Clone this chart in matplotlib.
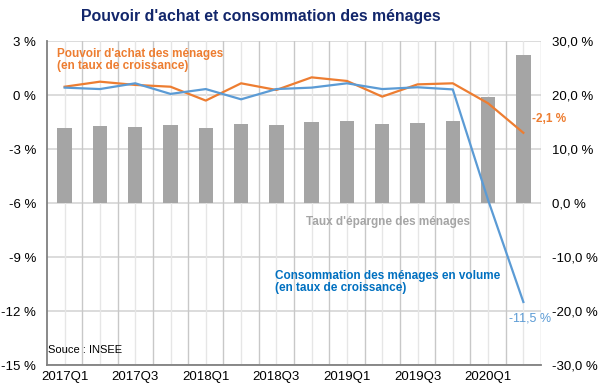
import matplotlib
matplotlib.use("Agg")
import matplotlib.pyplot as plt
import numpy as np

plt.rcParams['font.family'] = ['Liberation Sans', 'DejaVu Sans']

quarters = ["2017Q1", "2017Q2", "2017Q3", "2017Q4", "2018Q1", "2018Q2", "2018Q3",
            "2018Q4", "2019Q1", "2019Q2", "2019Q3", "2019Q4", "2020Q1", "2020Q2"]
epargne = [13.8, 14.2, 14.0, 14.4, 13.8, 14.6, 14.5, 15.0, 15.1, 14.7, 14.9, 15.2, 19.7, 27.4]
pouvoir_achat = [0.46, 0.74, 0.56, 0.46, -0.31, 0.65, 0.28, 0.98, 0.78, -0.09, 0.59, 0.65, -0.46, -2.1]
consommation = [0.41, 0.33, 0.65, 0.06, 0.33, -0.24, 0.33, 0.41, 0.65, 0.33, 0.43, 0.31, -5.83, -11.5]
left_ticks = [-15, -12, -9, -6, -3, 0, 3]
right_ticks = [-30, -20, -10, 0, 10, 20, 30]

C_ORANGE = "#ED7D31"
C_BLUE = "#5B9BD5"
C_BLUE_TXT = "#0070C0"
C_BAR = "#A5A5A5"
C_TITLE = "#12266B"

fig = plt.figure(figsize=(6, 3.9), dpi=100)
ax = fig.add_axes([47/600, 25/390, (541-47)/600, (365-41)/390])
ax2 = ax.twinx()

x = np.arange(len(quarters))

# grid
for v in right_ticks:
    ax.axhline(v, color="#D9D9D9", lw=1.3, zorder=0)
for i in x:
    ax.axvline(i, color="#E6E6E6", lw=1.0, zorder=0)
    ax.axvline(i + 0.5, color="#C8C8C8", lw=1.0, zorder=0)

ax.bar(x, epargne, width=0.41, color=C_BAR, zorder=2)
ax.set_ylim(-30, 30)
ax.set_xlim(-0.5, len(quarters) - 0.5)
ax.yaxis.tick_right()
ax.set_yticks(right_ticks)
ax.set_yticklabels([f"{v:.1f}".replace(".", ",") + " %" for v in right_ticks])

ax2.plot(x, pouvoir_achat, color=C_ORANGE, lw=1.6, zorder=3)
ax2.plot(x, consommation, color=C_BLUE, lw=1.6, zorder=3)
ax2.set_ylim(-15, 3)
ax2.yaxis.tick_left()
ax2.set_yticks(left_ticks)
ax2.set_yticklabels([f"{v} %" for v in left_ticks])

ax.set_xticks(x[::2])
ax.set_xticklabels(quarters[::2])

for a in (ax, ax2):
    a.tick_params(length=0, labelsize=9.5, colors="#000000")
    for s in a.spines.values():
        s.set_visible(False)
ax.tick_params(axis='y', pad=8)
ax2.tick_params(axis='y', pad=8)
ax.tick_params(axis='x', pad=4)

ax2.spines['left'].set_visible(True)
ax2.spines['left'].set_color("#808080")
ax2.spines['left'].set_linewidth(1.3)
ax2.spines['bottom'].set_visible(True)
ax2.spines['bottom'].set_color("#808080")
ax2.spines['bottom'].set_linewidth(1.3)

# texts
fig.text(261/600, 1 - 16/390, "Pouvoir d'achat et consommation des ménages",
         ha="center", va="center", fontsize=11.4, fontweight="bold", color=C_TITLE)
fig.text(57/600, 1 - 60/390, "Pouvoir d'achat des ménages\n(en taux de croissance)",
         ha="left", va="center", fontsize=8.5, fontweight="bold", color=C_ORANGE,
         linespacing=1.05)
fig.text(306/600, 1 - 222/390, "Taux d'épargne des ménages",
         ha="left", va="center", fontsize=8.5, fontweight="bold", color=C_BAR)
fig.text(275/600, 1 - 282/390, "Consommation des ménages en volume\n(en taux de croissance)",
         ha="left", va="center", fontsize=8.5, fontweight="bold", color=C_BLUE_TXT,
         linespacing=1.05)
fig.text(48/600, 1 - 350/390, "Souce : INSEE", ha="left", va="center",
         fontsize=8, color="#000000")

ax2.annotate(f"{pouvoir_achat[-1]:.1f}".replace(".", ",") + " %",
             xy=(x[-1], pouvoir_achat[-1]), xytext=(6, 10), textcoords="offset points",
             ha="left", va="center", fontsize=8.5, fontweight="bold", color=C_ORANGE)
ax2.annotate(f"{consommation[-1]:.1f}".replace(".", ",") + " %",
             xy=(x[-1], consommation[-1]), xytext=(-10, -12), textcoords="offset points",
             ha="left", va="center", fontsize=9, color=C_BLUE)

fig.savefig("out.png", dpi=100)
